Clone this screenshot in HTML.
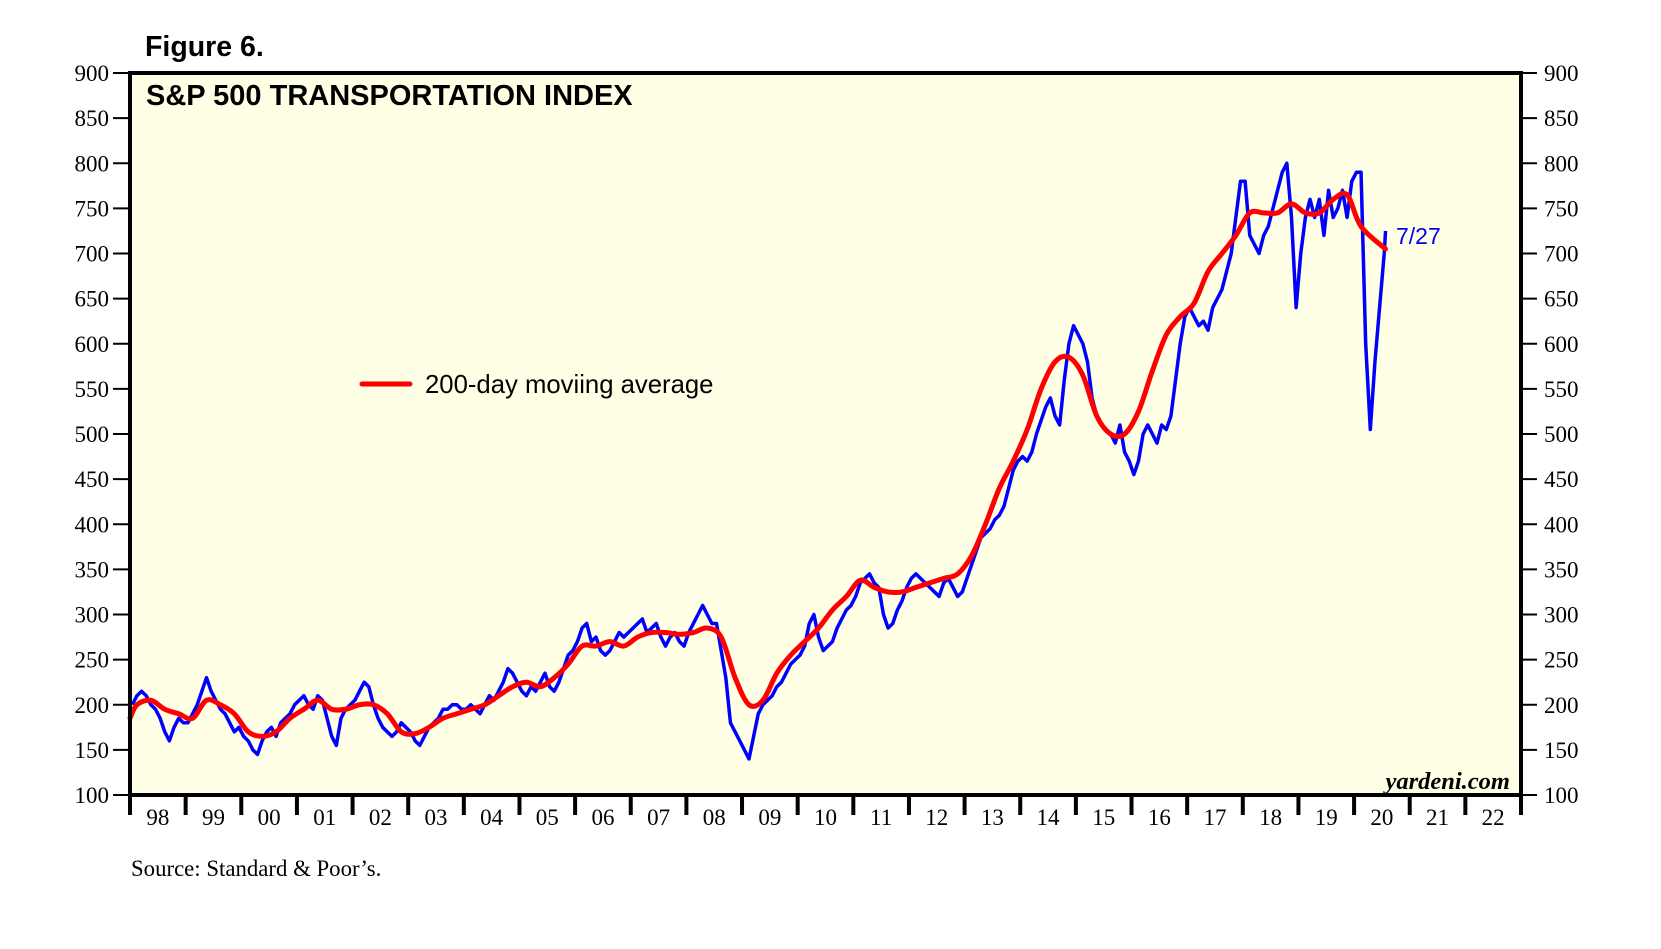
<!DOCTYPE html>
<html><head><meta charset="utf-8">
<style>
html,body{margin:0;padding:0;background:#fff;}
svg{display:block;}
</style></head>
<body>
<svg id="chart" width="1661" height="949" xmlns="http://www.w3.org/2000/svg">
  <text x="145" y="56" font-family="Liberation Sans, sans-serif" font-weight="bold" font-size="28.5">Figure 6.</text>
  <rect x="130" y="73" width="1391" height="722" fill="#ffffe6"/>
  <g id="plot"></g>
  <rect x="130" y="73" width="1391" height="722" fill="none" stroke="#000" stroke-width="4"/>
  <text x="146" y="105" font-family="Liberation Sans, sans-serif" font-weight="bold" font-size="29">S&amp;P 500 TRANSPORTATION INDEX</text>
  <line x1="362" y1="384" x2="410" y2="384" stroke="#ff0000" stroke-width="5" stroke-linecap="round"/>
  <text x="425" y="393" font-family="Liberation Sans, sans-serif" font-size="25.7">200-day moviing average</text>
  <text x="1396" y="244" font-family="Liberation Sans, sans-serif" font-size="23" fill="#0000ff">7/27</text>
  <text x="1510" y="789" text-anchor="end" font-family="Liberation Serif, serif" font-style="italic" font-weight="bold" font-size="24.5">yardeni.com</text>
  <text x="131" y="876" font-family="Liberation Serif, serif" font-size="22.8">Source: Standard &amp; Poor’s.</text>
  <g id="axes"></g>
</svg>
<script>
const yTicks = [100,150,200,250,300,350,400,450,500,550,600,650,700,750,800,850,900];
const yearLabels = ["98","99","00","01","02","03","04","05","06","07","08","09","10","11","12","13","14","15","16","17","18","19","20","21","22"];
const indexMonthly = [
 200,210,215,210,200,195,185,170,160,175,185,180,
 180,190,200,215,230,215,205,195,190,180,170,175,
 165,160,150,145,160,170,175,165,180,185,190,200,
 205,210,200,195,210,205,185,165,155,185,195,200,
 205,215,225,220,200,185,175,170,165,170,180,175,
 170,160,155,165,175,180,185,195,195,200,200,195,
 195,200,195,190,200,210,205,215,225,240,235,225,
 215,210,220,215,225,235,220,215,225,240,255,260,
 270,285,290,270,275,260,255,260,270,280,275,280,
 285,290,295,280,285,290,275,265,275,280,270,265,
 280,290,300,310,300,290,290,260,230,180,170,160,
 150,140,165,190,200,205,210,220,225,235,245,250,
 255,265,290,300,275,260,265,270,285,295,305,310,
 320,335,340,345,335,330,300,285,290,305,315,330,
 340,345,340,335,330,325,320,335,340,330,320,325,
 340,355,370,385,390,395,405,410,420,440,460,470,
 475,470,480,500,515,530,540,520,510,560,600,620,
 610,600,580,540,520,510,505,500,490,510,480,470,
 455,470,500,510,500,490,510,505,520,560,600,630,
 640,630,620,625,615,640,650,660,680,700,740,780,
 780,720,710,700,720,730,750,770,790,800,740,640,
 700,740,760,740,760,720,770,740,750,770,740,780,
 790,790,600,505,580,640,700
];
const indexLast = 725;
const maQuarterly = [
 200,205,195,190, 185,205,200,190, 170,165,170,185, 195,205,195,195,
 200,200,190,170, 168,175,185,190, 195,200,210,220, 225,220,230,245,
 265,265,270,265, 275,280,280,278, 280,285,275,230, 200,205,235,255,
 270,285,305,320, 338,330,325,325, 330,335,340,345, 365,400,440,470,
 505,550,580,585, 565,520,500,500, 525,570,610,630, 645,680,700,720,
 745,745,745,755, 745,745,760,765, 730
];
const maStart = 185;
const maLast = 705;

const NS="http://www.w3.org/2000/svg";
const X0=130,X1=1521,Y0=795,Y1=73;
const xOf=t=>X0+(t-1998)/25*(X1-X0);
const yOf=v=>Y0-(v-100)/800*(Y0-Y1);
const axes=document.getElementById('axes'), plot=document.getElementById('plot');
function mk(tag,attrs,parent){const e=document.createElementNS(NS,tag);for(const k in attrs)e.setAttribute(k,attrs[k]);parent.appendChild(e);return e;}

yTicks.forEach(v=>{
  const y=yOf(v);
  const l=mk('line',{x1:113,x2:130,y1:y,y2:y,stroke:'#000','stroke-width':2},axes);
  
  
  const r=mk('line',{x1:1521,x2:1537,y1:y,y2:y,stroke:'#000','stroke-width':2},axes);
  
  
  const t1=mk('text',{x:109,y:y+8,'text-anchor':'end','font-family':'Liberation Serif, serif','font-size':23},axes);
  t1.textContent=v;
  
  
  const t2=mk('text',{x:1544,y:y+8,'font-family':'Liberation Serif, serif','font-size':23},axes);
  t2.textContent=v;
  
  
});
for(let i=0;i<=yearLabels.length;i++){
  const x=xOf(1998+i);
  const l=mk('line',{x1:x,x2:x,y1:795,y2:815,stroke:'#000','stroke-width':4},axes);
  
  
  if(i<yearLabels.length){
    const t=mk('text',{x:xOf(1998.5+i),y:825,'text-anchor':'middle','font-family':'Liberation Serif, serif','font-size':23},axes);
    t.textContent=yearLabels[i];
    
    
  }
}
let pts=[];
indexMonthly.forEach((v,i)=>{pts.push([xOf(1998+(i+0.5)/12),yOf(v)]);});
pts.push([xOf(2020+207/366),yOf(indexLast)]);
const blue=mk('polyline',{points:pts.map(p=>p.join(',')).join(' '),fill:'none',stroke:'#0000ff','stroke-width':3.5,'stroke-linejoin':'round'},plot);


let mp=[[xOf(1998),yOf(maStart)]];
maQuarterly.forEach((v,i)=>{mp.push([xOf(1998+(i+0.5)/4),yOf(v)]);});
mp.push([xOf(2020+207/366),yOf(maLast)]);
let d='M'+mp[0].join(',');
for(let i=0;i<mp.length-1;i++){
  const p0=mp[Math.max(0,i-1)],p1=mp[i],p2=mp[i+1],p3=mp[Math.min(mp.length-1,i+2)];
  const c1=[p1[0]+(p2[0]-p0[0])/6,p1[1]+(p2[1]-p0[1])/6];
  const c2=[p2[0]-(p3[0]-p1[0])/6,p2[1]-(p3[1]-p1[1])/6];
  d+=' C'+c1.join(',')+' '+c2.join(',')+' '+p2.join(',');
}
const red=mk('path',{d:d,fill:'none',stroke:'#ff0000','stroke-width':5,'stroke-linejoin':'round','stroke-linecap':'round'},plot);


</script>
</body></html>
